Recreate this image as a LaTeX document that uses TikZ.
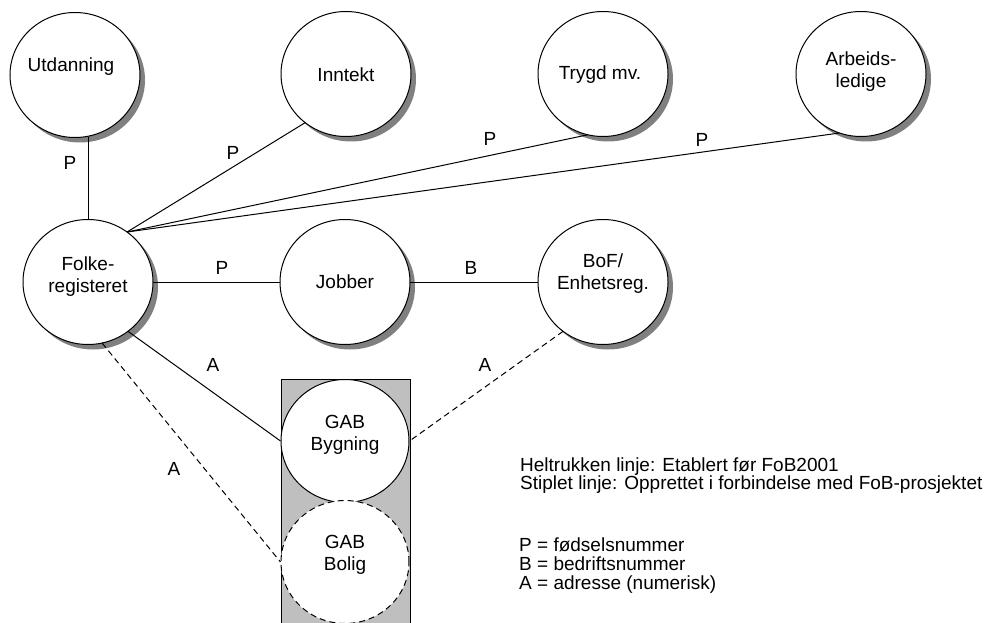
\documentclass[tikz,border=0pt]{standalone}
\usepackage{fontspec}
\setmainfont{Liberation Sans}
\usetikzlibrary{shapes.geometric}
\definecolor{shadowgray}{RGB}{128,128,128}
\tikzset{
  base/.style={font=\fontsize{19bp}{22bp}\selectfont},
  ent/.style={ellipse, minimum width=130bp, minimum height=125bp, inner sep=0pt, outer sep=0pt},
  disc/.style={fill=white, draw=black, line width=1bp},
  gab/.style={ellipse, draw, line width=1bp, fill=white, minimum width=128bp, minimum height=123bp, inner sep=0pt},
  txt/.style={base, align=center, inner sep=0pt},
  lab/.style={base, inner sep=0pt},
  leg/.style={base, anchor=base west, inner sep=0pt},
  link/.style={line width=1bp},
  dlink/.style={line width=1bp, dash pattern=on 6bp off 4bp},
}
\begin{document}
\begin{tikzpicture}[x=1bp, y=-1bp]
\useasboundingbox (0,0) rectangle (993,623);
% gray column
\fill[black!25] (281,379) rectangle (410,623);
\draw[line width=1bp] (281,623) -- (281,379) -- (410,379) -- (410,623);

% entities (invisible nodes give the anchors)
\node[ent] (U) at (75,75) {};
\node[ent] (I) at (346,74) {};
\node[ent] (T) at (603,74) {};
\node[ent] (A) at (861,74) {};
\node[ent] (F) at (88,282) {};
\node[ent] (J) at (345,282) {};
\node[ent] (B) at (603,282) {};

% shadows, then the white discs with outline
\foreach \n in {U,I,T,A,F,J,B}{
  \fill[shadowgray] ([shift={(5,5)}]\n.center) ellipse [x radius=65, y radius=62.5];
}
\foreach \n in {U,I,T,A,F,J,B}{
  \path[disc] (\n.center) ellipse [x radius=65, y radius=62.5];
}

\node[gab] (G) at (345,441) {};
\node[gab, dash pattern=on 6bp off 4bp] (H) at (345,562) {};

% entity texts
\node[txt] (Ut) at (71,67) {Utdanning};
\node[txt] (It) at (346,75) {Inntekt};
\node[txt] (Tt) at (600,75) {Trygd mv.};
\node[txt] (At) at (861,72) {Arbeids-\\ledige};
\node[txt] (Ft) at (88,277) {Folke-\\registeret};
\node[txt] (Jt) at (345,282) {Jobber};
\node[txt] (Bt) at (603,274) {BoF/\\Enhetsreg.};
\node[txt] (Gt) at (345,435) {GAB\\Bygning};
\node[txt] (Ht) at (345,555) {GAB\\Bolig};

% connectors
\draw[link] (F.north) -- (F.north |- U.south);
\draw[link] (F.52) -- (I.230);
\draw[link] (F.52) -- (T.256);
\draw[link] (F.52) -- (A.250);
\draw[link] (F) -- (J);
\draw[link] (J) -- (B);
\draw[link] (F.309) -- (G.west);
\draw[dlink] (F.283) -- (H.west);
\draw[dlink] (B.231) -- (G.east);

% connector labels
\node[lab] (l1) at (70,163) {P};
\node[lab] (l2) at (233,153) {P};
\node[lab] (l3) at (490,139) {P};
\node[lab] (l4) at (702,140) {P};
\node[lab] (l5) at (222,268) {P};
\node[lab] (l6) at (471,268) {B};
\node[lab] (l7) at (213,365) {A};
\node[lab] (l8) at (174,469) {A};
\node[lab] (l9) at (485,365) {A};

% legend
\node[leg] (g1) at (520,471) {Heltrukken linje: Etablert før FoB2001};
\node[leg] (g2) at (520,489) {Stiplet linje: Opprettet i forbindelse med FoB-prosjektet};
\node[leg] (g3) at (519,551) {P = fødselsnummer};
\node[leg] (g4) at (519,570) {B = bedriftsnummer};
\node[leg] (g5) at (519,589) {A = adresse (numerisk)};
\end{tikzpicture}
\end{document}
